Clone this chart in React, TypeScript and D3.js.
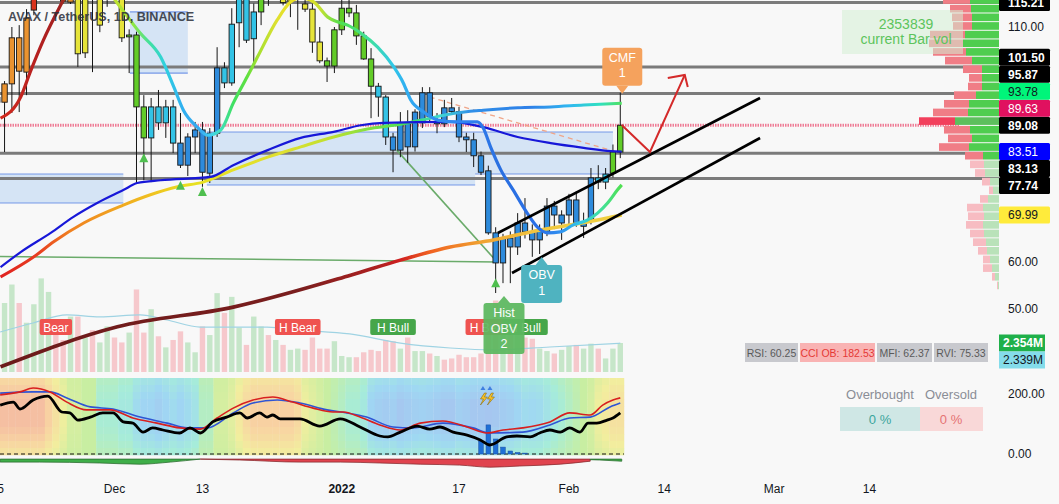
import React, { useEffect } from "react";
import * as d3 from "d3";

// ---------- time ----------
const START = Date.UTC(2021, 10, 15); // day index 0 = 15 Nov 2021
const DAY = 86400000;
const dayDate = (i: number) => new Date(START + i * DAY);

// ---------- candles (AVAX/USDT 1D) ----------
const opens = [
  94, 94, 97.9, 107.7, 100.4, 113.6, 125, 140, 134, 125,
  115.3, 118, 104.5, 116, 117, 117, 120, 118, 108.3, 108.3,
  93, 86.4, 93, 89.6, 93, 85.3, 80.6, 86.6, 88.1, 78.9,
  87.4, 101.3, 98.1, 110.9, 117, 107.5, 113.2, 117, 118, 119,
  115.5, 117, 114.9, 113.8, 106.8, 102.8, 101.7, 109.4, 114, 113,
  108.1, 103.2, 97.4, 95.1, 86.6, 83.8, 89.6, 84.5, 89.6, 96,
  89.8, 89.4, 92.8, 92, 86.6, 86, 82.6, 79.4, 66.2, 59.8,
  65.1, 63.2, 68.3, 66.4, 64.7, 66.4, 71.9, 70, 70, 73.2,
  68.3, 68.9, 77.9, 77, 78.9, 83.4,
];
const highs = [
  96, 98.5, 110, 110.4, 113.8, 130, 146, 145, 140, 132,
  122, 121, 119, 120, 119, 122, 125, 121, 109.5, 109,
  95.5, 94.9, 96.6, 94.5, 94.5, 91.7, 87.4, 89.8, 89.8, 88.5,
  105.7, 102.5, 114, 120, 120, 115, 120, 121, 122, 121,
  119, 119, 116.5, 115, 110, 103.5, 110, 116, 117, 114.7,
  109, 105.5, 98.1, 95.5, 87.5, 91.9, 92.3, 92.5, 97.2, 97.2,
  91.7, 94.5, 94.9, 93, 87.5, 87.5, 83.5, 80.5, 67.4, 66,
  66.5, 70.4, 73.6, 68, 68, 73.6, 73, 71, 74.5, 75,
  70.5, 80, 80.6, 80, 85, 96,
];
const lows = [
  92, 83.4, 91.7, 91.9, 95.5, 112.5, 122, 128, 125, 115,
  114.9, 101.5, 103.4, 100.4, 108.9, 114.3, 116, 106.8, 100.2, 76.8,
  77.4, 77, 88.1, 86.4, 83.2, 80, 78.3, 83.2, 76, 76.8,
  86.6, 97, 97.5, 105.7, 106.6, 101.5, 110.4, 114.5, 116, 114.6,
  112.1, 109.4, 113.2, 104.5, 102.3, 98.3, 100.2, 108.3, 112.1, 106.2,
  103, 90.6, 90.9, 84.9, 79.1, 82.3, 81.1, 83.5, 88.5, 90,
  87.4, 88.7, 91.5, 85.5, 83.4, 80.2, 78.5, 65.8, 53.4, 55.5,
  55.5, 61.5, 65, 61.1, 61.7, 65.5, 67, 64.7, 67.5, 67.5,
  65.1, 68, 75.5, 75.5, 78, 82.1,
];
const closes = [
  95, 97.9, 107.7, 100.6, 111.9, 125, 140, 134, 130, 115.5,
  118, 104.3, 116, 117, 110.4, 120, 118, 107.7, 107.9, 93,
  86.4, 93, 89.6, 93, 85.3, 80.6, 86.6, 88.1, 79.1, 87.4,
  101.3, 98.1, 110.6, 117, 107.2, 113.2, 117, 118, 119, 115.2,
  117, 116, 113.8, 106.8, 102.8, 101.7, 109.4, 114, 113, 108.1,
  103.2, 97.4, 95.1, 86.6, 83.8, 89.6, 84.5, 91.9, 96, 90.9,
  89.4, 92.8, 92, 86.6, 86, 82.6, 79.1, 66.2, 59.8, 65.1,
  63.2, 68.3, 66.4, 64.7, 66.8, 71.9, 70, 68.3, 73.2, 68.3,
  67.6, 77.9, 77, 78.7, 83.4, 89.1,
];
// trend colour code of each candle
const candleTrend =
  "ooooorrrrooyyyyyyygggccccbbbbbbcccccggyyyyyyyggggggg" +
  "ccbbbbbbbbbbbbbbbbbbbbbbbbbbbbccggg";

// ---------- volume (millions) ----------
const volumes = [
  4.0, 5.6, 7.1, 5.6, 4.0, 5.5, 7.6, 6.5, 4.0, 2.6,
  4.5, 4.5, 2.8, 3.4, 2.4, 3.7, 2.8, 2.4, 3.2, 6.7,
  3.2, 5.1, 2.9, 2.0, 2.6, 3.3, 2.4, 1.6, 3.7, 3.0,
  6.4, 4.8, 6.1, 3.6, 2.2, 4.5, 3.7, 3.0, 2.6, 2.2,
  1.8, 1.9, 1.8, 2.8, 1.9, 1.9, 2.5, 1.3, 1.2, 1.2,
  1.6, 1.8, 1.7, 2.6, 2.5, 1.9, 2.8, 1.7, 1.7, 1.5,
  1.3, 1.0, 1.1, 1.4, 1.2, 1.2, 1.5, 4.2, 5.8, 4.6,
  3.4, 3.0, 2.8, 2.7, 1.9, 1.7, 1.5, 1.8, 2.1, 2.2,
  1.9, 2.3, 1.9, 1.1, 1.9, 2.354,
];
const volumeSide = "pggpggggppgpgpggppgppgpgppggpggpggpggpgpggppppgggppppppgpggpgppppppppgpgppggpggpggpggg";
const volumeMA: [number, number][] = [
  [0.4, 3.25], [4.9, 3.98], [9.5, 4.63], [14, 4.47], [19.5, 4.63], [23.2, 4.22],
  [27.7, 3.65], [36.8, 3.65], [41.3, 3.41], [48.1, 3.09], [55, 2.35], [61.8, 1.95],
  [67.6, 1.79], [75.4, 2.03], [85, 2.339],
];

// ---------- moving averages (day index, price) ----------
const emaFast: [number, number][] = [
  [0.45, 90.6], [3.2, 95.1], [4.5, 100.4], [6.3, 107.2], [9, 115.7], [12, 124.3],
  [16.1, 115.7], [19.5, 108.7], [22.3, 103.6], [24.1, 97.2], [25.4, 92.3], [27.3, 88.7],
  [28.7, 87.0], [30.5, 88.1], [32.2, 93.8], [34.1, 99.4], [35.5, 103.6], [38.2, 111.5],
  [40, 115.3], [41.4, 116.2], [43.2, 115.3], [45.1, 112.1], [46.4, 111.1], [47.8, 110.4],
  [49.6, 108.7], [51.9, 105.7], [54.1, 101.5], [55.4, 98.1], [56.4, 94.5], [58.2, 91.9],
  [60.1, 90.2], [62.8, 89.8], [65.5, 89.8], [66.3, 88.5], [67.3, 84.5], [68.7, 79.6],
  [70.4, 75.3], [72.3, 70.4], [73.7, 67.4], [75.1, 66.2], [76.8, 66.4], [78.6, 67.9],
  [80.5, 68.9], [81.9, 70.4], [83.3, 72.6], [84.6, 75.3], [85.2, 76.4],
];
const emaMid: [number, number][] = [
  [0.45, 58.9], [3.2, 62.1], [7.3, 66.2], [10.4, 69.6], [13.7, 72.6], [17.2, 75.3],
  [19.1, 76.8], [22.3, 77.4], [29.1, 78.1], [32.2, 80.6], [36.9, 83.8], [41.4, 86.4],
  [45.9, 87.7], [49.6, 89.1], [52.7, 89.6], [61.8, 89.8], [66.3, 88.7], [71, 86.6],
  [75.5, 85.3], [80, 84.3], [83.7, 83.6], [85.2, 83.51],
];
const emaSlow: [number, number][] = [
  [0.45, 56.8], [5, 61.1], [7.7, 64.3], [11.8, 68.3], [17.2, 72.1], [20.9, 74.3],
  [24.6, 76.0], [28.1, 77.0], [32.2, 79.6], [36.9, 82.3], [41.4, 84.5], [45.9, 86.6],
  [50.5, 88.3], [55, 89.3], [58.5, 90.4], [61.8, 91.5], [66.3, 92.3], [71, 92.8],
  [75.5, 93.0], [80, 93.4], [85.2, 93.78],
];
const emaLong: [number, number][] = [
  [0.45, 37.7], [16.4, 46.2], [32.2, 50.4], [48.2, 57.2], [55, 60.4], [61.8, 63.2],
  [67.7, 64.7], [74.1, 66.8], [80.5, 68.5], [85.2, 69.99],
];
const fastStops: [number, string][] = [
  [0.4, "#d42a1e"], [5.8, "#b32020"], [8.6, "#a02020"], [15.4, "#c8e030"], [18.1, "#a0e830"],
  [20.8, "#40e0a0"], [22.9, "#30d0e0"], [25.3, "#30b0f0"], [27.7, "#38a8f0"], [29, "#40d0f0"],
  [30.4, "#40e0c0"], [32.2, "#40e060"], [34.1, "#60e040"], [35.4, "#a0e030"], [38.2, "#e0e030"],
  [41.3, "#f0e020"], [44, "#c8e030"], [46.8, "#50e050"], [50.9, "#40e0a0"], [54, "#30c8e8"],
  [55.6, "#30b0f0"], [59, "#2f90f0"], [64.5, "#3080f0"], [68.6, "#2a6fe0"], [74, "#2a70e8"],
  [76.8, "#3090f0"], [79.5, "#30c8e8"], [82.2, "#40e0a0"], [85.2, "#50e050"],
];
const slowStops: [number, string][] = [
  [0.4, "#e02020"], [5.8, "#e84020"], [9.9, "#f08020"], [15.4, "#f0a020"], [20.8, "#f0c020"],
  [26.3, "#e8e020"], [38.6, "#e0e030"], [45.4, "#c0e030"], [50.9, "#80e040"], [56.3, "#40e060"],
  [60.4, "#40d8d0"], [64.5, "#3090e8"], [72.7, "#2f80e8"], [78.1, "#30b8f0"], [82.2, "#30e0c0"],
  [85.2, "#50e060"],
];
const longStops: [number, string][] = [
  [0.4, "#6b1a1a"], [41.3, "#7a1e1e"], [52.2, "#b02020"], [55, "#d02020"], [59, "#f06020"],
  [65.8, "#f0a030"], [74, "#f0c840"], [85.2, "#f0d040"],
];

// ---------- drawings ----------
const zoneStart = [18.1, -5, 28.6, 65.2];
const zoneEnd = [26.0, 17.2, 65.2, 84.0];
const zoneTop = [113.2, 78.72, 87.66, 87.66];
const zoneBottom = [100.2, 72.55, 76.38, 78.72];
const levelLines = [115.21, 101.5, 95.87, 83.13, 77.74];
const pocLevel = 89.08;
const channelUpper: [number, number][] = [[68.3, 66.17], [104.07, 94.89]];
const channelLower: [number, number][] = [[70.23, 57.66], [104.07, 86.38]];
const projection: [number, number][] = [[85.2, 89.15], [89.05, 83.4], [93.8, 99.8]];
const greenFlat: [number, number][] = [[-1, 61.2], [68.2, 60.0]];
const greenDiag: [number, number][] = [[54.5, 83.8], [68.2, 60.0]];
const dashedTrend: [number, number][] = [[59.0, 95.1], [84.5, 83.4]];
const signalIdx = [20, 25, 28, 68];
const signalPrice = [82.1, 76.2, 74.9, 55.5];
const divIdx = [8, 41, 54, 67, 72];
const divText = ["Bear", "H Bear", "H Bull", "H Bear", "H Bull"];
const divBull = [false, false, true, false, true];

// ---------- volume profile (rows from top) ----------
const profileTop = 116.66;
const profileStep = 1.84;
const profileBuy = [29, 28, 27, 27, 34, 36, 33, 27, 17, 17, 17, 23, 30, 31, 44, 29, 27, 30, 16, 15, 14, 9, 6, 11, 16, 15, 16, 15, 13, 12, 9, 7, 4, 1];
const profileSell = [27, 21, 20, 19, 35, 34, 33, 27, 19, 13, 14, 22, 25, 35, 36, 26, 24, 30, 18, 14, 10, 8, 4, 8, 16, 16, 17, 14, 13, 9, 7, 9, 3, 1];
const valueAreaLow = 81.7;

// ---------- price axis labels ----------
const priceLabels = [115.21, 110, 60, 50, 89.08, 83.51, 69.99, 89.63, 93.78, 95.87, 101.5, 83.13, 77.74];
const priceLabelKind = ["k", "t", "t", "t", "k", "blue", "yel", "mag", "grn", "k", "k", "k", "k"];

// ---------- oscillator pane ----------
const oscHeat = [
  0.95, 0.95, 0.95, 0.95, 0.95, 0.95, 0.95, 0.85, 0.75, 0.65,
  0.55, 0.55, 0.5, 0.5, 0.35, 0.35, 0.35, 0.3, 0.3, 0.2,
  0.15, 0.15, 0.1, 0.15, 0.2, 0.15, 0.2, 0.25, 0.4, 0.4,
  0.55, 0.55, 0.6, 0.7, 0.8, 0.85, 0.85, 0.85, 0.85, 0.85,
  0.85, 0.8, 0.65, 0.6, 0.55, 0.5, 0.45, 0.4, 0.35, 0.35,
  0.3, 0.15, 0.1, 0.08, 0.1, 0.05, 0.08, 0.1, 0.12, 0.1,
  0.08, 0.05, 0.05, 0.1, 0.08, 0.05, 0.05, 0.03, 0.05, 0.08,
  0.1, 0.15, 0.2, 0.18, 0.2, 0.25, 0.3, 0.35, 0.4, 0.45,
  0.5, 0.55, 0.65, 0.7, 0.75, 0.75,
];
const oscMain: [number, number][] = [
  [0.4, 163], [2.2, 173], [3.1, 150], [4.9, 180], [6.9, 193], [8.8, 140], [9.9, 137], [11, 113],
  [12.7, 123], [14.4, 137], [15.8, 137], [17.2, 107], [18.5, 103], [19.9, 73], [21.2, 87], [22.6, 80],
  [24.9, 70], [26.3, 87], [27.7, 70], [29.4, 107], [31.3, 123], [33.1, 137], [34.1, 120], [35.8, 137],
  [36.8, 123], [37.6, 130], [38.6, 117], [41.3, 117], [44, 93], [46.8, 117], [49.5, 90], [52.2, 60],
  [53.3, 57], [55, 73], [57.3, 93], [59, 83], [60.4, 90], [62.2, 73], [64.1, 63], [65.9, 47],
  [67.2, 30], [69.5, 57], [70.9, 60], [72.7, 57], [74, 70], [75.4, 80], [76.8, 73], [78.1, 87],
  [79.5, 73], [80.6, 103], [81.8, 103], [83.2, 113], [84, 120], [85, 137],
];
const oscFast: [number, number][] = [
  [0.4, 197], [3.1, 207], [4.9, 220], [7.2, 207], [9.5, 173], [12.2, 147], [15.4, 147], [18.5, 120],
  [21.8, 103], [24.9, 87], [27.7, 83], [30, 120], [32.2, 153], [34.9, 180], [37.6, 190], [40.3, 173],
  [43.1, 153], [45.8, 140], [47.2, 140], [49.5, 123], [52.2, 97], [55, 80], [57.7, 103], [60.8, 110],
  [64.1, 90], [66.8, 70], [69, 80], [71.7, 87], [75.4, 107], [78.1, 137], [80.9, 130], [82.6, 163],
  [84, 180], [85, 187],
];
const oscSlow: [number, number][] = [
  [0.4, 203], [4.9, 207], [7.2, 207], [9.5, 187], [12.7, 157], [15.8, 150], [19.5, 123], [23.2, 103],
  [25.9, 87], [28.6, 87], [32.2, 137], [34.9, 170], [38.2, 180], [41.3, 170], [45, 147], [47.7, 137],
  [50.4, 123], [54, 90], [56.7, 87], [60.8, 103], [64.9, 87], [67.2, 70], [71.7, 73], [75.4, 97],
  [78.1, 120], [80.9, 123], [83.6, 157], [85, 170],
];
const oscFlow: [number, number][] = [
  [0.4, 10], [5.8, 10], [14, 13], [19.5, 17], [23.6, 10], [27.7, 0], [33.1, -3], [41.3, -10],
  [46.8, -10], [52.2, -13], [57.7, -17], [63.1, -20], [67.2, -27], [71.3, -23], [76.8, -17],
  [80.9, -7], [82.2, 3], [85.2, 7],
];
const histIdx = [66, 67, 68, 69, 70, 71, 72];
const histVal = [43, 97, 50, 23, 10, 5, 3];

// ---------- time axis ----------
const timeTicks = [0, 16, 28, 47, 63, 78, 91, 106, 119];
const timeText = ["15", "Dec", "13", "2022", "17", "Feb", "14", "Mar", "14"];

// ---------- styles ----------
const FONT = "'Liberation Sans', Arial, sans-serif";
const trendColor: Record<string, string> = {
  o: "#ea9330", r: "#d8321c", y: "#e6e43a", g: "#62cc28", c: "#33c3e6", b: "#2e8bdc",
};
const labelStyle: Record<string, [string, string]> = {
  k: ["#000000", "#ffffff"], blue: ["#0000ff", "#ffffff"], yel: ["#ffeb3b", "#131722"],
  mag: ["#e0115f", "#ffffff"], grn: ["#00f57a", "#131722"], t: ["none", "#131722"],
};

export default function App() {
  useEffect(() => {
    document.body.style.margin = "0";
    document.body.style.overflow = "hidden";
  }, []);

  const PLOT_R = 999;
  const x = d3.scaleUtc().domain([dayDate(0), dayDate(119)]).range([-2.78, 869.49]);
  const xi = (i: number) => x(dayDate(i));
  const yP = d3.scaleLinear().domain([60, 110]).range([262, 27]);
  const yV = d3.scaleLinear().domain([0, 2.354]).range([372, 343]);
  const yI = d3.scaleLinear().domain([0, 200]).range([454, 394]);
  const step = xi(1) - xi(0);

  const priceLine = d3.line<[number, number]>().x((p) => xi(p[0])).y((p) => yP(p[1])).curve(d3.curveMonotoneX);
  const straight = d3.line<[number, number]>().x((p) => xi(p[0])).y((p) => yP(p[1]));
  const volLine = d3.line<[number, number]>().x((p) => xi(p[0])).y((p) => yV(p[1])).curve(d3.curveMonotoneX);
  const oscLine = d3.line<[number, number]>().x((p) => xi(p[0])).y((p) => yI(p[1])).curve(d3.curveMonotoneX);

  const GW = 640;
  const grad = (id: string, stops: [number, string][]) => (
    <linearGradient id={id} gradientUnits="userSpaceOnUse" x1={0} x2={GW} y1={0} y2={0}>
      {stops.map((s, k) => (
        <stop key={k} offset={Math.max(0, Math.min(1, xi(s[0]) / GW))} stopColor={s[1]} />
      ))}
    </linearGradient>
  );

  // price-axis label placement (collision avoidance)
  const placed: { v: number; y: number; kind: string }[] = [];
  priceLabels.forEach((v, k) => {
    let y = yP(v);
    for (let it = 0; it < 20; it++) {
      const hit = placed.find((p) => Math.abs(p.y - y) < 17);
      if (!hit) break;
      y = v > hit.v ? hit.y - 17 : hit.y + 17;
    }
    placed.push({ v, y, kind: priceLabelKind[k] });
  });

  const heatColor = d3.piecewise(d3.interpolateRgb, [
    "#a7c2ef", "#9fd7f3", "#a6ecd9", "#c8eea2", "#f2ee9e", "#f8d4a2", "#f4b6a2",
  ]);
  const rowBlend = [0.3, 0.18, 0.08, 0, 0, 0, 0, 0.08, 0.18, 0.32, 0.45];

  const flowBase = -17;
  const flowArea = d3
    .area<[number, number]>()
    .x((p) => xi(p[0]))
    .y0(yI(flowBase))
    .y1((p) => yI(flowBase - Math.abs(p[1])))
    .curve(d3.curveMonotoneX);

  const fmt = d3.format(".2f");

  const boxLabel = (cx: number, top: number, w: number, h: number, lines: string[], fill: string, pointer: "up" | "down", apexY: number) => (
    <g>
      <rect x={cx - w / 2} y={top} width={w} height={h} rx={3} fill={fill} />
      {pointer === "down" ? (
        <path d={`M${cx - 6},${top + h} L${cx},${apexY} L${cx + 6},${top + h} Z`} fill={fill} />
      ) : (
        <path d={`M${cx - 6},${top} L${cx},${apexY} L${cx + 6},${top} Z`} fill={fill} />
      )}
      {lines.map((t, k) => (
        <text key={k} x={cx} y={top + 14 + k * 15.5} textAnchor="middle" fontSize={12.5} fill="#ffffff" fontFamily={FONT}>
          {t}
        </text>
      ))}
    </g>
  );

  return (
    <svg width={1059} height={504} style={{ position: "absolute", left: 0, top: 0, display: "block" }}>
      <defs>
        <clipPath id="mainClip"><rect x={0} y={0} width={PLOT_R} height={373} /></clipPath>
        <clipPath id="oscClip"><rect x={0} y={376} width={PLOT_R} height={94} /></clipPath>
        {grad("gFast", fastStops)}
        {grad("gSlow", slowStops)}
        {grad("gLong", longStops)}
      </defs>
      <rect x={0} y={0} width={1059} height={504} fill="#f8f8f8" />

      <g clipPath="url(#mainClip)">
        {/* zones */}
        {zoneStart.map((s, k) => (
          <g key={k}>
            <rect x={xi(s)} y={yP(zoneTop[k])} width={xi(zoneEnd[k]) - xi(s)} height={yP(zoneBottom[k]) - yP(zoneTop[k])} fill="#9cc2ee" opacity={0.38} />
            <line x1={xi(s)} x2={xi(zoneEnd[k])} y1={yP(zoneTop[k])} y2={yP(zoneTop[k])} stroke="#5b84e6" strokeWidth={1.2} opacity={0.8} />
            <line x1={xi(s)} x2={xi(zoneEnd[k])} y1={yP(zoneBottom[k])} y2={yP(zoneBottom[k])} stroke="#5b84e6" strokeWidth={1.2} opacity={0.8} />
          </g>
        ))}

        {/* volume */}
        {volumes.map((v, i) => (
          <rect key={i} x={xi(i) - 2.7} y={yV(v)} width={5.4} height={yV(0) - yV(v)} fill={volumeSide[i] === "g" ? "#c6e6c9" : "#f6c8cc"} />
        ))}
        <path d={volLine(volumeMA) || ""} fill="none" stroke="#9fd3e3" strokeWidth={1.2} />

        {/* horizontal levels */}
        {levelLines.map((v, k) => (
          <line key={k} x1={0} x2={PLOT_R} y1={yP(v)} y2={yP(v)} stroke="#7b7b7b" strokeWidth={3} />
        ))}
        <line x1={0} x2={960} y1={yP(pocLevel)} y2={yP(pocLevel)} stroke="#ef7d96" strokeWidth={3} strokeDasharray="1.5 1" />

        {/* thin drawings */}
        <path d={straight(greenFlat) || ""} stroke="#6aab6a" strokeWidth={1.6} fill="none" />
        <path d={straight(greenDiag) || ""} stroke="#6aab6a" strokeWidth={1.6} fill="none" />
        <path d={straight(dashedTrend) || ""} stroke="#f0a588" strokeWidth={1.3} strokeDasharray="5 4" fill="none" />

        {/* candles */}
        {opens.map((o, i) => {
          const cx = xi(i);
          const c = closes[i];
          const top = yP(Math.max(o, c));
          const bot = yP(Math.min(o, c));
          return (
            <g key={i}>
              <line x1={cx} x2={cx} y1={yP(highs[i])} y2={yP(lows[i])} stroke="#161616" strokeWidth={1} />
              <rect x={cx - 2.7} y={top} width={5.4} height={Math.max(1.2, bot - top)} fill={trendColor[candleTrend[i]]} stroke="#161616" strokeWidth={0.9} />
            </g>
          );
        })}

        {/* moving averages */}
        <path d={priceLine(emaLong) || ""} fill="none" stroke="url(#gLong)" strokeWidth={3.6} />
        <path d={priceLine(emaSlow) || ""} fill="none" stroke="url(#gSlow)" strokeWidth={3} />
        <path d={priceLine(emaMid) || ""} fill="none" stroke="#1717d8" strokeWidth={2.2} />
        <path d={priceLine(emaFast) || ""} fill="none" stroke="url(#gFast)" strokeWidth={3.2} />

        {/* signals */}
        {signalIdx.map((s, k) => {
          const cx = xi(s);
          const cy = yP(signalPrice[k]);
          return <path key={k} d={`M${cx - 4.5},${cy + 4} L${cx},${cy - 5} L${cx + 4.5},${cy + 4} Z`} fill="#4fbf4f" />;
        })}

        {/* channel + projection */}
        <path d={straight(channelUpper) || ""} stroke="#000" strokeWidth={2.6} fill="none" />
        <path d={straight(channelLower) || ""} stroke="#000" strokeWidth={2.6} fill="none" />
        <path d={straight(projection) || ""} stroke="#d42a2a" strokeWidth={2} fill="none" />
        {(() => {
          const tip: [number, number] = [xi(projection[2][0]), yP(projection[2][1])];
          return (
            <path d={`M${tip[0] - 17},${tip[1] + 3} L${tip[0]},${tip[1]} L${tip[0] + 3},${tip[1] + 12}`} stroke="#d42a2a" strokeWidth={2} fill="none" />
          );
        })()}

        {/* divergence labels */}
        {divIdx.map((s, k) => {
          const w = divText[k].length * 6.6 + 6;
          return (
            <g key={k}>
              <rect x={xi(s) - w / 2} y={319} width={w} height={16} rx={2} fill={divBull[k] ? "#46a64a" : "#ef5350"} />
              <text x={xi(s)} y={331.5} textAnchor="middle" fontSize={12} fill="#fff" fontFamily={FONT}>{divText[k]}</text>
            </g>
          );
        })}

        {/* pattern labels */}
        {boxLabel(xi(85) + 2, yP(highs[85]) - 45, 40, 38, ["CMF", "1"], "#f5a25d", "down", yP(highs[85]) + 1)}
        {boxLabel(xi(74) + 2, yP(lows[74]) + 11, 41, 38, ["OBV", "1"], "#4fb3c0", "up", yP(lows[74]) + 3)}
        <g opacity={0.93}>
          {boxLabel(xi(69) + 1, yP(lows[68]) + 10, 41, 51, ["Hist", "OBV", "2"], "#5cb85f", "up", yP(lows[68]) + 3)}
        </g>

        {/* volume profile */}
        {profileBuy.map((b, k) => {
          const t = yP(profileTop - k * profileStep);
          const bt = yP(profileTop - (k + 1) * profileStep);
          const inVA = profileTop - (k + 1) * profileStep > valueAreaLow - 0.5;
          const s = profileSell[k];
          const poc = k === 14;
          return (
            <g key={k}>
              <rect x={PLOT_R - b - s} y={t + 0.5} width={s} height={bt - t - 1} fill={poc ? "#f23f5c" : inVA ? "#f07d86" : "#f7bcc2"} />
              <rect x={PLOT_R - b} y={t + 0.5} width={b} height={bt - t - 1} fill={poc ? "#5dbf5d" : inVA ? "#4fcd4f" : "#b9e2b9"} />
            </g>
          );
        })}
        <rect x={842} y={10} width={121} height={44} fill="#d3eed3" opacity={0.55} />
        <text x={906} y={29} textAnchor="middle" fontSize={14} fill="#5cc45c" fontFamily={FONT}>2353839</text>
        <text x={906} y={43.5} textAnchor="middle" fontSize={14} fill="#5cc45c" fontFamily={FONT}>current Bar vol</text>

        {/* indicator table */}
        {[
          ["RSI: 60.25", 745, 53, "#c8c9ce", "#5a5a5a"],
          ["CCI OB: 182.53", 800, 75, "#f9b3b3", "#e53935"],
          ["MFI: 62.37", 877, 55, "#c8c9ce", "#5a5a5a"],
          ["RVI: 75.33", 934, 54, "#c8c9ce", "#5a5a5a"],
        ].map((c, k) => (
          <g key={k}>
            <rect x={c[1] as number} y={343} width={c[2] as number} height={19} fill={c[3] as string} />
            <text x={(c[1] as number) + (c[2] as number) / 2} y={356.5} textAnchor="middle" fontSize={10.5} fill={c[4] as string} fontFamily={FONT}>{c[0]}</text>
          </g>
        ))}
      </g>

      {/* title */}
      <text x={8} y={21} fontSize={12.6} fill="#2a2e39" fontFamily={FONT} fontWeight="bold" opacity={0.85}>AVAX / TetherUS, 1D, BINANCE</text>

      {/* oscillator pane */}
      <g clipPath="url(#oscClip)">
        {oscHeat.map((h, i) =>
          rowBlend.map((rb, r) => (
            <rect key={i + "-" + r} x={xi(i) - step / 2} y={378 + r * 7} width={step + 0.3} height={7.3} fill={heatColor(h + (0.5 - h) * rb)} />
          ))
        )}
        <line x1={0} x2={xi(85.5)} y1={yI(0)} y2={yI(0)} stroke="#111" strokeWidth={1} strokeDasharray="4 3" />
        {histIdx.map((s, k) => (
          <rect key={k} x={xi(s) - 2.3} y={yI(histVal[k])} width={4.6} height={yI(0) - yI(histVal[k])} fill="#1f6fd6" stroke="#1a4fa0" strokeWidth={0.5} />
        ))}
        <path d={oscLine(oscSlow) || ""} fill="none" stroke="#2f55d4" strokeWidth={1.6} />
        <path d={oscLine(oscFast) || ""} fill="none" stroke="#d81f1f" strokeWidth={1.6} />
        <path d={oscLine(oscMain) || ""} fill="none" stroke="#000" strokeWidth={2.8} />
        {(() => {
          const pos = oscFlow.filter((p) => p[1] >= 0 && p[0] < 30);
          const neg = oscFlow.filter((p) => p[1] <= 0 || (p[0] >= 27 && p[0] < 82));
          const end = oscFlow.filter((p) => p[0] >= 80.9);
          return (
            <g>
              <path d={flowArea(pos) || ""} fill="#3fae49" stroke="#2c6e30" strokeWidth={0.8} />
              <path d={flowArea(neg.filter((p) => p[0] <= 82.2)) || ""} fill="#e0434e" stroke="#8a2c30" strokeWidth={0.8} />
              <path d={flowArea(end.map((p) => [p[0], Math.max(2, p[1])] as [number, number])) || ""} fill="#3fae49" stroke="#2c6e30" strokeWidth={0.8} />
            </g>
          );
        })()}
        {[0, 7].map((dx, k) => {
          const bx = xi(66.2) + dx;
          return (
            <g key={k}>
              <path d={`M${bx - 2},${390} L${bx + 0.5},${386} L${bx + 3},${390} Z`} fill="#3f7fe0" />
              <path d={`M${bx + 2},${393} L${bx - 2},${399} L${bx + 1},${399} L${bx - 2},${405} L${bx + 5},${397} L${bx + 2},${397} L${bx + 4},${393} Z`} fill="#f6c026" stroke="#7a5e00" strokeWidth={0.5} />
            </g>
          );
        })}
      </g>

      {/* overbought / oversold table */}
      <text x={880} y={398.5} textAnchor="middle" fontSize={13} fill="#8a8d96" fontFamily={FONT}>Overbought</text>
      <text x={951} y={398.5} textAnchor="middle" fontSize={13} fill="#8a8d96" fontFamily={FONT}>Oversold</text>
      <rect x={840} y={407} width={80} height={24} fill="#cfe7e5" />
      <rect x={920} y={407} width={63} height={24} fill="#f9d8d8" />
      <text x={880} y={423.5} textAnchor="middle" fontSize={13} fill="#3aa59c" fontFamily={FONT}>0 %</text>
      <text x={951} y={423.5} textAnchor="middle" fontSize={13} fill="#e57373" fontFamily={FONT}>0 %</text>

      {/* price axis */}
      {placed.map((p, k) => {
        const st = labelStyle[p.kind];
        return (
          <g key={k}>
            {st[0] !== "none" && <rect x={999} y={p.y - 8.5} width={51} height={17} rx={1.5} fill={st[0]} />}
            <text x={1008} y={p.y + 4.3} fontSize={12} fill={st[1]} fontFamily={FONT} fontWeight={st[0] !== "none" && st[0] === "#000000" ? "bold" : "normal"}>{fmt(p.v)}</text>
          </g>
        );
      })}
      {/* volume axis */}
      {(() => {
        const y1 = yV(2.354);
        const y2 = Math.max(yV(2.339), y1 + 17);
        return (
          <g>
            <rect x={999} y={y1 - 8.5} width={46} height={17} fill="#1fb04a" />
            <text x={1003} y={y1 + 4.3} fontSize={12} fill="#fff" fontFamily={FONT} fontWeight="bold">2.354M</text>
            <rect x={999} y={y2 - 8.5} width={46} height={17} fill="#84dcea" />
            <text x={1003} y={y2 + 4.3} fontSize={12} fill="#131722" fontFamily={FONT}>2.339M</text>
          </g>
        );
      })()}
      {/* oscillator axis */}
      {[200, 0].map((v) => (
        <text key={v} x={1008} y={yI(v) + 4.3} fontSize={12} fill="#131722" fontFamily={FONT}>{fmt(v)}</text>
      ))}

      {/* time axis */}
      {timeTicks.map((t, k) => (
        <text key={k} x={xi(t)} y={493} textAnchor="middle" fontSize={12} fill="#131722" fontFamily={FONT} fontWeight={timeText[k] === "2022" ? "bold" : "normal"}>
          {timeText[k]}
        </text>
      ))}
    </svg>
  );
}
